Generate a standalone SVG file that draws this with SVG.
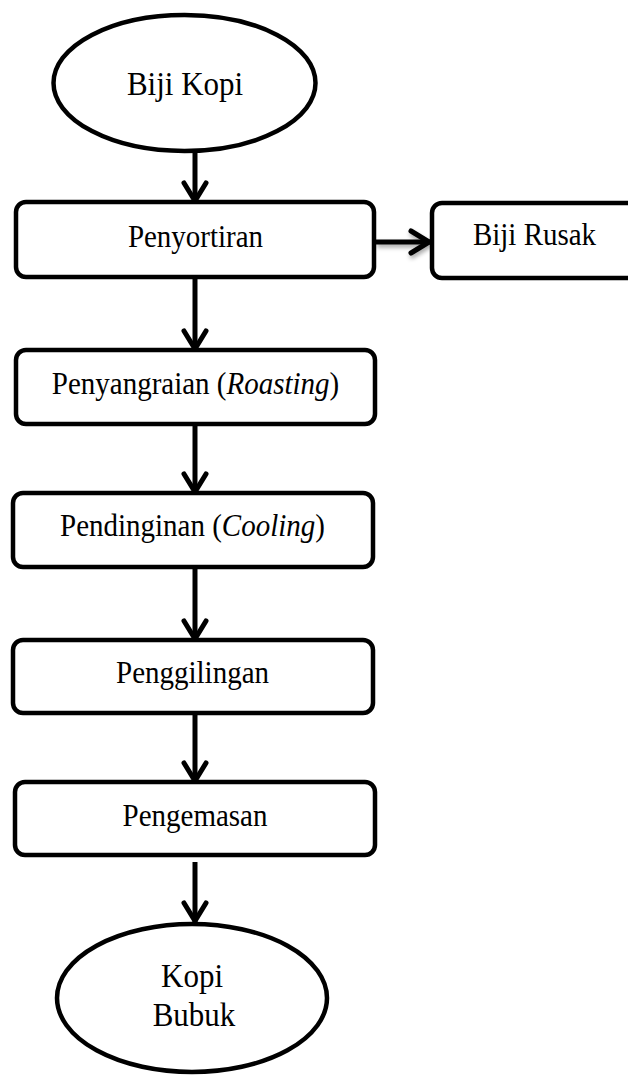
<svg xmlns="http://www.w3.org/2000/svg" width="628" height="1075" viewBox="0 0 628 1075">
<style>
.node{fill:#fff;stroke:#000;stroke-width:4.5}
.lbl{font-family:"Liberation Serif","Times New Roman",serif;font-size:29px;fill:#000;text-anchor:middle}
.big{font-size:31px}
.conn{fill:none;stroke:#000;stroke-width:5}
</style>
<defs>
<marker id="ah" markerUnits="userSpaceOnUse" markerWidth="30" markerHeight="30" viewBox="-25 -15 30 30" refX="0" refY="0" orient="auto" overflow="visible">
<path d="M-19,-11 L-1,0 L-19,11" fill="none" stroke="#000" stroke-width="5" stroke-linecap="round" stroke-linejoin="round"/>
</marker>
<filter id="sh" filterUnits="userSpaceOnUse" x="360" y="215" width="90" height="55">
<feDropShadow dx="1" dy="3" stdDeviation="2" flood-color="#000" flood-opacity="0.35"/>
</filter>
</defs>
<rect width="628" height="1075" fill="#fff"/>
<g id="connectors">
<line class="conn" x1="195" y1="153" x2="195" y2="202" marker-end="url(#ah)"/>
<line class="conn" x1="376" y1="242" x2="430" y2="242" marker-end="url(#ah)" filter="url(#sh)"/>
<line class="conn" x1="195" y1="279" x2="195" y2="350" marker-end="url(#ah)"/>
<line class="conn" x1="195" y1="426" x2="195" y2="493" marker-end="url(#ah)"/>
<line class="conn" x1="195" y1="569" x2="195" y2="640" marker-end="url(#ah)"/>
<line class="conn" x1="195" y1="715" x2="195" y2="782" marker-end="url(#ah)"/>
<line class="conn" x1="195" y1="862" x2="195" y2="922" marker-end="url(#ah)"/>
</g>
<g id="biji-kopi">
<ellipse class="node" cx="184.5" cy="83" rx="131" ry="68" stroke-width="4"/>
<text class="lbl big" transform="translate(185,95) scale(1,1.1)" font-size="31.5">Biji Kopi</text>
</g>
<g id="penyortiran">
<rect class="node" x="16" y="202" width="358" height="75" rx="10"/>
<text class="lbl" transform="translate(195.5,247) scale(1,1.1)">Penyortiran</text>
</g>
<g id="biji-rusak">
<rect class="node" x="432" y="203" width="210" height="75" rx="10"/>
<text class="lbl" transform="translate(534.5,245) scale(1,1.1)">Biji Rusak</text>
</g>
<g id="roasting">
<rect class="node" x="16" y="350" width="359" height="74" rx="10"/>
<text class="lbl" transform="translate(195.5,394) scale(1,1.1)">Penyangraian (<tspan font-style="italic">Roasting</tspan>)</text>
</g>
<g id="cooling">
<rect class="node" x="13" y="493" width="360" height="74" rx="10"/>
<text class="lbl" transform="translate(192.5,536) scale(1,1.1)">Pendinginan (<tspan font-style="italic">Cooling</tspan>)</text>
</g>
<g id="penggilingan">
<rect class="node" x="13" y="640" width="360" height="73" rx="10"/>
<text class="lbl" transform="translate(192.5,683) scale(1,1.1)">Penggilingan</text>
</g>
<g id="pengemasan">
<rect class="node" x="15" y="782" width="360" height="73" rx="10"/>
<text class="lbl" transform="translate(195,826) scale(1,1.1)">Pengemasan</text>
</g>
<g id="kopi-bubuk">
<ellipse class="node" cx="192" cy="998" rx="135" ry="74" stroke-width="4"/>
<text class="lbl big" transform="translate(192,987) scale(1,1.1)">Kopi</text>
<text class="lbl big" transform="translate(194,1026) scale(1,1.1)">Bubuk</text>
</g>
</svg>
